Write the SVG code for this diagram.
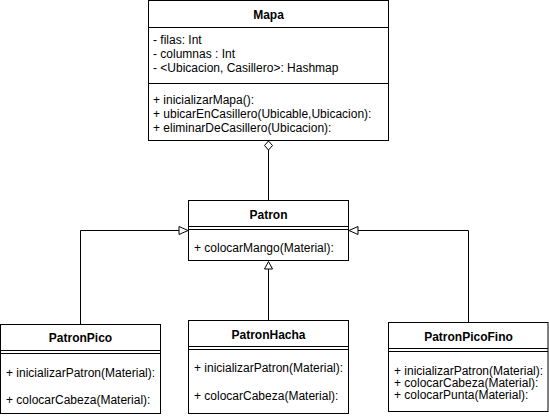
<svg xmlns="http://www.w3.org/2000/svg" width="549" height="418" viewBox="0 0 549 418">
<style>
.box{fill:#fff;stroke:#000;stroke-width:1}
.ln{fill:none;stroke:#000;stroke-width:1}
.t{font-family:"Liberation Sans",Arial,sans-serif;font-size:12px;fill:#000}
.h{font-family:"Liberation Sans",Arial,sans-serif;font-size:12px;font-weight:bold;fill:#000;text-anchor:middle}
.tri{fill:#fff;stroke:#000;stroke-width:1}
</style>
<rect width="549" height="418" fill="#fff"/>
<g id="connectors">
<polygon class="tri" points="268.5,141 272.5,145.5 268.5,150 264.5,145.5"/>
<line class="ln" x1="268.5" y1="150" x2="268.5" y2="200.5"/>
<polyline class="ln" points="80.5,324.5 80.5,230.5 179,230.5"/>
<polygon class="tri" points="179,226.5 188,230.5 179,234.5"/>
<polyline class="ln" points="468.5,322.5 468.5,230.5 358,230.5"/>
<polygon class="tri" points="358,226.5 349,230.5 358,234.5"/>
<line class="ln" x1="268.5" y1="320.5" x2="268.5" y2="269"/>
<polygon class="tri" points="264.5,269 268.5,261.5 272.5,269"/>
</g>
<g id="Mapa">
<rect class="box" x="148.5" y="0.5" width="240" height="140"/>
<text class="h" x="268.5" y="19">Mapa</text>
<line class="ln" x1="148.5" y1="27.5" x2="388.5" y2="27.5"/>
<text class="t" x="153" y="44">- filas: Int</text>
<text class="t" x="153" y="58">- columnas : Int</text>
<text class="t" x="153" y="72">- &lt;Ubicacion, Casillero&gt;: Hashmap</text>
<line class="ln" x1="148.5" y1="83.5" x2="388.5" y2="83.5"/>
<text class="t" x="153" y="104">+ inicializarMapa():</text>
<text class="t" x="153" y="118">+ ubicarEnCasillero(Ubicable,Ubicacion):</text>
<text class="t" x="153" y="132">+ eliminarDeCasillero(Ubicacion):</text>
</g>
<g id="Patron">
<rect class="box" x="188.5" y="200.5" width="160" height="60"/>
<text class="h" x="268.5" y="219">Patron</text>
<line class="ln" x1="188.5" y1="226.5" x2="348.5" y2="226.5"/>
<line class="ln" x1="188.5" y1="229.5" x2="348.5" y2="229.5"/>
<text class="t" x="194" y="252">+ colocarMango(Material):</text>
</g>
<g id="PatronPico">
<rect class="box" x="0.5" y="324.5" width="160" height="89"/>
<text class="h" x="80.5" y="342">PatronPico</text>
<line class="ln" x1="0.5" y1="350.5" x2="160.5" y2="350.5"/>
<line class="ln" x1="0.5" y1="353.5" x2="160.5" y2="353.5"/>
<text class="t" x="6" y="377">+ inicializarPatron(Material):</text>
<text class="t" x="6" y="404">+ colocarCabeza(Material):</text>
</g>
<g id="PatronHacha">
<rect class="box" x="188.5" y="320.5" width="160" height="93"/>
<text class="h" x="268.5" y="339">PatronHacha</text>
<line class="ln" x1="188.5" y1="346.5" x2="348.5" y2="346.5"/>
<line class="ln" x1="188.5" y1="349.5" x2="348.5" y2="349.5"/>
<text class="t" x="194" y="372">+ inicializarPatron(Material):</text>
<text class="t" x="194" y="400">+ colocarCabeza(Material):</text>
</g>
<g id="PatronPicoFino">
<rect class="box" x="388.5" y="322.5" width="159.5" height="89"/>
<text class="h" x="468.5" y="341">PatronPicoFino</text>
<line class="ln" x1="388.5" y1="348.5" x2="548" y2="348.5"/>
<line class="ln" x1="388.5" y1="351.5" x2="548" y2="351.5"/>
<text class="t" x="394" y="375">+ inicializarPatron(Material):</text>
<text class="t" x="394" y="387">+ colocarCabeza(Material):</text>
<text class="t" x="394" y="399">+ colocarPunta(Material):</text>
</g>
</svg>
